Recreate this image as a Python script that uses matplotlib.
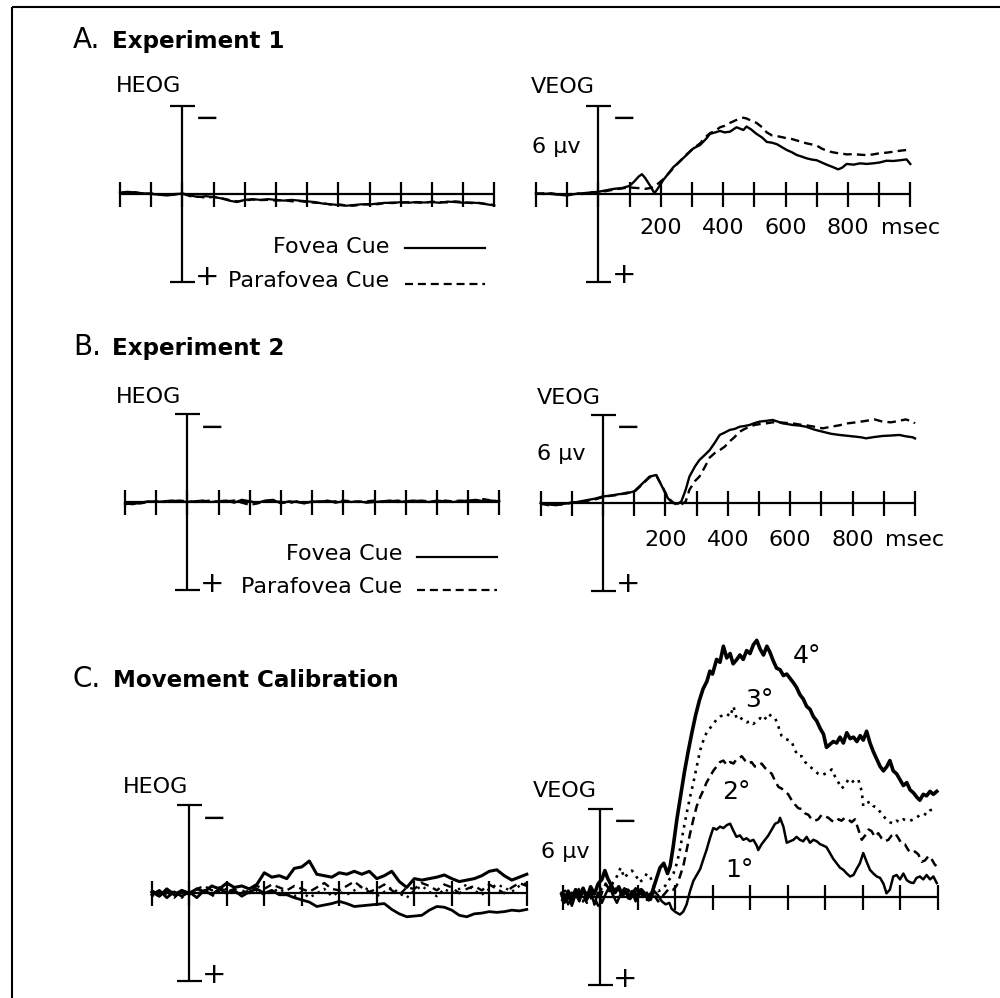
import numpy as np
import matplotlib
matplotlib.use("Agg")
import matplotlib.pyplot as plt
from matplotlib.lines import Line2D

# ---------------- data (values are -µV: negative voltage plotted upward) -------------
ticks_ab = [-200, -100, 0, 100, 200, 300, 400, 500, 600, 700, 800, 900, 1000]
ticks_c = [-100, 0, 100, 200, 300, 400, 500, 600, 700, 800, 900]
tick_labels = {200: "200", 400: "400", 600: "600", 800: "800", 1000: "msec"}
bar_uv = 6

# Experiment 1
t_heog_a = list(range(-200, 1001, 25))
heog_a_fovea = [0.1, 0.15, 0.1, 0.05, 0.0, -0.05, -0.1, -0.05, 0.05, -0.1, -0.2, -0.15, -0.2,
                -0.3, -0.45, -0.55, -0.4, -0.35, -0.4, -0.35, -0.4, -0.45, -0.4, -0.45, -0.5,
                -0.55, -0.65, -0.7, -0.75, -0.8, -0.75, -0.7, -0.72, -0.65, -0.6, -0.62, -0.55,
                -0.6, -0.55, -0.58, -0.55, -0.6, -0.52, -0.55, -0.6, -0.58, -0.62, -0.7, -0.78]
heog_a_parafovea = [0.05, 0.1, 0.12, 0.0, 0.05, -0.02, -0.08, 0.0, 0.02, -0.15, -0.18, -0.25,
                    -0.2, -0.28, -0.4, -0.5, -0.45, -0.38, -0.42, -0.4, -0.45, -0.42, -0.5,
                    -0.48, -0.55, -0.6, -0.62, -0.72, -0.7, -0.78, -0.8, -0.72, -0.68, -0.7,
                    -0.62, -0.58, -0.6, -0.55, -0.58, -0.6, -0.52, -0.55, -0.58, -0.5, -0.55,
                    -0.62, -0.6, -0.68, -0.75]

t_veog_a = [-200, -175, -150, -125, -100, -75, -50, -25, 0, 25, 50, 75, 100, 115, 130, 140, 150,
            165, 180, 190, 208, 225, 240, 260, 283, 304, 326, 345, 358, 375, 390, 405, 422, 443,
            455, 465, 475, 490, 507, 525, 540, 556, 572, 588, 604, 620, 636, 652, 668, 684, 700,
            716, 732, 750, 769, 782, 796, 818, 839, 860, 881, 902, 924, 945, 967, 988, 1000]
veog_a_fovea = [0.05, 0.0, 0.05, -0.05, -0.1, 0.0, 0.05, 0.1, 0.15, 0.25, 0.35, 0.4, 0.55, 0.85,
                1.2, 1.35, 1.1, 0.6, 0.05, 0.35, 0.95, 1.4, 1.82, 2.2, 2.66, 3.1, 3.34, 3.75,
                4.1, 4.2, 4.3, 4.2, 4.25, 4.55, 4.45, 4.36, 4.6, 4.4, 4.1, 3.85, 3.55, 3.5, 3.4,
                3.2, 3.0, 2.85, 2.66, 2.55, 2.43, 2.35, 2.3, 2.15, 2.0, 1.85, 1.68, 1.8, 2.05,
                2.0, 2.09, 2.05, 2.09, 2.15, 2.27, 2.25, 2.3, 2.36, 2.05]
veog_a_parafovea = [0.0, 0.05, 0.0, -0.05, -0.05, 0.05, 0.0, 0.1, 0.12, 0.2, 0.3, 0.38, 0.45,
                    0.42, 0.4, 0.38, 0.35, 0.4, 0.5, 0.68, 1.0, 1.4, 1.75, 2.2, 2.7, 3.1, 3.45,
                    3.9, 4.15, 4.3, 4.55, 4.65, 4.85, 5.05, 5.15, 5.2, 5.15, 5.0, 4.85, 4.55,
                    4.2, 4.0, 3.95, 3.88, 3.8, 3.75, 3.65, 3.55, 3.45, 3.38, 3.3, 3.1, 2.95,
                    2.85, 2.78, 2.75, 2.7, 2.72, 2.68, 2.65, 2.7, 2.78, 2.82, 2.88, 2.95, 3.0, 3.1]

# Experiment 2
t_heog_b = list(range(-200, 1001, 25))
heog_b_fovea = [-0.1, -0.15, -0.05, 0.05, 0.0, 0.05, 0.1, 0.05, 0.0, 0.05, 0.1, 0.0, 0.05, 0.1,
                -0.05, 0.15, 0.05, -0.05, 0.1, 0.15, -0.1, 0.05, 0.0, -0.1, 0.05, 0.0, 0.1,
                -0.05, 0.05, 0.0, 0.05, -0.05, 0.0, 0.05, 0.1, 0.0, 0.05, 0.1, 0.05, 0.0, 0.1,
                0.05, 0.0, 0.05, 0.1, 0.15, 0.05, 0.1, 0.05]
heog_b_parafovea = [-0.15, -0.1, -0.1, 0.0, 0.05, 0.0, 0.05, 0.1, 0.05, 0.0, 0.05, 0.1, 0.0,
                    0.05, 0.1, -0.05, -0.2, -0.1, 0.05, 0.1, 0.0, -0.1, 0.05, -0.05, 0.0, 0.05,
                    0.0, 0.05, 0.1, 0.05, 0.0, 0.05, 0.1, 0.0, 0.05, 0.1, 0.0, 0.05, 0.1, 0.05,
                    0.0, 0.1, 0.05, 0.1, 0.05, 0.1, 0.2, 0.1, 0.05]

t_veog_b = [-200, -175, -150, -125, -100, -75, -50, -25, 0, 25, 50, 75, 100, 125, 149, 171, 192,
            208, 224, 240, 251, 265, 277, 295, 309, 325, 342, 358, 374, 390, 406, 422, 438, 454,
            470, 486, 502, 523, 544, 560, 576, 592, 608, 630, 651, 678, 704, 731, 758, 784, 811,
            827, 843, 870, 896, 923, 950, 970, 993, 1000]
veog_b_fovea = [0.0, -0.1, -0.15, -0.05, 0.0, 0.1, 0.2, 0.3, 0.45, 0.5, 0.6, 0.65, 0.8, 1.3,
                1.8, 1.91, 1.0, 0.32, 0.0, -0.05, 0.1, 0.9, 1.8, 2.5, 2.93, 3.25, 3.61, 4.1,
                4.64, 4.8, 4.98, 5.05, 5.2, 5.25, 5.32, 5.45, 5.55, 5.6, 5.66, 5.55, 5.43, 5.38,
                5.32, 5.28, 5.2, 5.0, 4.86, 4.72, 4.64, 4.58, 4.52, 4.48, 4.41, 4.5, 4.57, 4.6,
                4.64, 4.55, 4.48, 4.4]
veog_b_parafovea = [-0.05, -0.15, -0.1, -0.1, 0.05, 0.05, 0.15, 0.25, 0.4, 0.5, 0.55, 0.7, 0.75,
                    1.25, 1.75, 1.85, 1.05, 0.35, 0.05, -0.15, -0.1, 0.1, 0.9, 1.5, 1.8, 2.4,
                    3.1, 3.4, 3.6, 3.84, 4.2, 4.5, 4.86, 5.05, 5.2, 5.32, 5.38, 5.43, 5.5, 5.5,
                    5.48, 5.45, 5.43, 5.35, 5.3, 5.2, 5.09, 5.2, 5.3, 5.43, 5.5, 5.55, 5.6, 5.7,
                    5.55, 5.5, 5.6, 5.7, 5.55, 5.43]

# Movement calibration
t_heog_c = list(range(-100, 901, 20))
heog_c_4deg = [0.1, -0.2, 0.3, -0.1, 0.2, 0.0, 0.3, 0.1, 0.5, 0.3, 0.7, 0.4, 0.5, 0.3, 0.6, 1.4,
               1.1, 1.2, 1.0, 1.7, 1.8, 2.2, 1.3, 1.2, 1.1, 1.4, 1.3, 1.5, 1.3, 1.5, 1.0, 1.2,
               1.5, 0.8, 0.4, 1.0, 0.9, 1.0, 1.1, 1.25, 1.0, 0.8, 0.9, 1.0, 1.2, 1.5, 1.6, 1.2,
               0.9, 1.1, 1.3]
heog_c_1deg = [-0.1, 0.2, -0.3, 0.1, -0.2, 0.1, -0.3, 0.2, -0.1, 0.3, 0.0, 0.2, -0.2, 0.1, 0.3,
               0.0, 0.2, -0.1, -0.1, -0.3, -0.45, -0.6, -0.9, -0.8, -0.7, -0.55, -0.7, -0.9,
               -0.85, -0.8, -0.75, -0.7, -1.1, -1.4, -1.6, -1.55, -1.5, -1.15, -0.9, -0.95,
               -1.15, -1.5, -1.6, -1.4, -1.35, -1.25, -1.3, -1.25, -1.15, -1.2, -1.1]
heog_c_2deg = [0.2, -0.1, 0.1, -0.3, 0.2, -0.1, 0.3, 0.5, 0.2, 0.4, 0.1, 0.3, 0.0, 0.2, 0.5, 0.3,
               0.6, 0.4, 0.2, 0.5, 0.3, 0.1, 0.4, 0.7, 0.3, 0.2, 0.5, 0.8, 0.4, 0.1, 0.3, 0.6,
               0.2, -0.1, 0.4, 0.3, 0.7, 0.5, 0.2, 0.6, 0.4, 0.0, 0.3, 0.5, 0.2, 0.6, 0.3, 0.0,
               0.4, 0.7, 0.5]
heog_c_3deg = [-0.2, 0.1, -0.1, 0.2, -0.3, 0.1, 0.0, 0.2, -0.2, 0.1, 0.3, -0.1, 0.2, 0.0, 0.2,
               -0.1, 0.1, 0.3, 0.0, -0.2, 0.1, -0.3, 0.0, 0.3, -0.2, 0.1, -0.1, 0.2, 0.5, 0.2,
               -0.2, 0.1, 0.4, 0.0, -0.3, 0.2, 0.5, 0.1, -0.2, 0.3, 0.0, 0.3, 0.6, 0.2, -0.1,
               0.3, 0.6, 0.4, 0.1, 0.5, 0.7]

veog_c_4deg = [(-102, 0.2), (-95, -0.3), (-85, 0.4), (-75, -0.2), (-65, 0.5), (-55, 0.0),
               (-45, 0.6), (-35, -0.1), (-25, 0.7), (-15, 0.2), (-5, 0.9), (5, 1.2), (13, 1.8),
               (20, 1.3), (30, 0.8), (40, 0.3), (50, 0.7), (60, 0.1), (70, 0.5), (80, -0.1),
               (90, 0.4), (100, 0.0), (110, 0.5), (120, 0.2), (130, -0.2), (140, 0.4),
               (150, 1.2), (160, 2.0), (170, 2.3), (180, 1.6), (187, 2.1), (195, 3.4),
               (205, 5.3), (215, 6.9), (225, 8.5), (235, 9.9), (245, 11.2), (255, 12.4),
               (265, 13.4), (275, 14.2), (285, 14.7), (293, 15.4), (300, 15.2), (311, 16.2),
               (320, 16.0), (329, 17.1), (338, 16.3), (347, 16.6), (355, 15.9), (365, 16.2),
               (373, 16.5), (382, 16.2), (391, 16.8), (400, 16.6), (409, 17.2), (418, 17.5),
               (427, 16.9), (436, 16.5), (445, 17.1), (453, 16.7), (462, 16.1), (471, 15.6),
               (480, 15.5), (489, 15.1), (498, 15.2), (507, 14.9), (516, 14.6), (524, 14.3),
               (533, 13.8), (542, 13.5), (551, 13.0), (560, 12.8), (569, 12.3), (578, 12.0),
               (587, 11.5), (596, 11.1), (604, 10.2), (613, 10.4), (622, 10.6), (631, 10.5),
               (640, 10.9), (649, 10.5), (658, 11.2), (667, 10.8), (676, 10.9), (685, 10.6),
               (694, 11.0), (702, 10.7), (711, 11.3), (720, 10.5), (729, 9.9), (738, 9.4),
               (747, 8.9), (756, 8.6), (765, 8.9), (773, 9.3), (782, 8.6), (791, 8.4),
               (800, 8.0), (809, 7.6), (818, 7.8), (827, 7.3), (836, 7.1), (845, 6.8),
               (853, 6.6), (862, 7.0), (871, 6.9), (880, 7.2), (889, 7.0), (898, 7.2)]
veog_c_3deg = [(-102, 0.0), (-95, 0.5), (-85, -0.2), (-75, 0.4), (-65, 0.1), (-55, 0.6),
               (-45, -0.3), (-35, 0.3), (-25, 0.0), (-15, -0.5), (-5, 0.2), (5, 0.6), (15, 0.9),
               (25, 0.4), (35, 1.0), (45, 1.4), (55, 2.0), (65, 1.3), (75, 1.6), (85, 1.8),
               (95, 1.5), (105, 1.0), (115, 1.2), (125, 1.6), (135, 1.3), (145, 0.7),
               (155, 0.4), (165, 0.5), (175, 0.8), (185, 1.2), (196, 1.6), (205, 2.3),
               (213, 3.2), (222, 4.5), (231, 5.7), (240, 6.8), (249, 7.8), (258, 8.9),
               (267, 10.0), (276, 10.7), (284, 11.2), (293, 11.5), (302, 11.8), (311, 12.1),
               (320, 12.3), (329, 12.4), (338, 12.5), (347, 12.3), (356, 13.0), (364, 12.2),
               (373, 12.3), (382, 12.0), (391, 11.9), (400, 12.0), (409, 11.8), (418, 12.0),
               (427, 12.2), (436, 12.0), (444, 12.3), (449, 12.5), (458, 12.3), (467, 12.2),
               (476, 11.6), (484, 11.0), (493, 10.8), (502, 10.7), (511, 10.6), (520, 10.0),
               (529, 9.6), (538, 9.6), (547, 9.2), (556, 9.0), (564, 8.8), (573, 8.6),
               (582, 8.4), (591, 8.3), (600, 8.4), (609, 8.5), (618, 8.7), (627, 8.2),
               (636, 7.8), (644, 7.4), (653, 7.6), (662, 8.0), (671, 7.8), (680, 8.0),
               (689, 8.0), (698, 7.2), (702, 6.2), (711, 6.4), (720, 6.5), (729, 6.2),
               (738, 6.1), (747, 5.8), (756, 5.5), (764, 5.3), (773, 5.1), (782, 5.0),
               (791, 5.2), (800, 5.1), (809, 5.3), (818, 5.2), (827, 5.2), (836, 5.3),
               (844, 5.4), (853, 5.6), (862, 5.7), (871, 5.6), (880, 5.9), (889, 6.0),
               (898, 5.9)]
veog_c_2deg = [(-102, -0.3), (-95, 0.2), (-85, -0.5), (-75, 0.3), (-65, -0.2), (-55, 0.4),
               (-45, 0.1), (-35, -0.4), (-25, 0.3), (-15, 0.0), (-5, -0.6), (5, 0.3), (15, 0.9),
               (25, 0.5), (35, 0.2), (45, 0.7), (55, 0.3), (65, -0.1), (75, 0.5), (85, 0.2),
               (95, 0.6), (105, 0.1), (115, 0.4), (125, -0.2), (135, 0.3), (145, 0.1),
               (155, -0.3), (165, 0.0), (175, 0.3), (185, 0.6), (196, 0.5), (205, 0.8),
               (213, 1.4), (222, 2.1), (231, 3.2), (240, 4.3), (249, 5.3), (258, 6.2),
               (267, 6.8), (276, 7.3), (284, 7.8), (293, 8.2), (302, 8.6), (311, 8.9),
               (320, 9.2), (329, 9.3), (338, 9.0), (347, 9.2), (356, 9.1), (364, 9.4),
               (373, 9.5), (378, 9.6), (387, 9.3), (396, 9.1), (404, 9.2), (413, 8.9),
               (422, 8.9), (431, 9.1), (440, 8.8), (449, 8.6), (458, 8.4), (467, 7.9),
               (476, 7.5), (484, 7.4), (493, 7.2), (502, 7.0), (511, 6.6), (520, 6.3),
               (529, 6.05), (538, 6.0), (547, 5.7), (556, 5.6), (564, 5.3), (573, 5.2),
               (582, 5.3), (591, 5.6), (600, 5.5), (609, 5.4), (618, 5.2), (627, 5.1),
               (636, 5.3), (644, 5.2), (653, 5.4), (662, 5.3), (671, 5.1), (680, 5.3),
               (689, 4.6), (698, 3.9), (707, 4.2), (716, 4.6), (724, 4.5), (733, 4.1),
               (742, 4.35), (751, 4.0), (760, 3.8), (769, 3.9), (778, 4.2), (787, 4.35),
               (796, 4.0), (804, 3.65), (813, 3.6), (822, 3.2), (831, 3.0), (840, 3.1),
               (849, 2.9), (858, 2.4), (867, 2.5), (876, 2.8), (884, 2.6), (893, 2.2),
               (898, 2.1)]
veog_c_1deg = [(-102, 0.3), (-95, -0.4), (-85, 0.1), (-75, -0.6), (-65, 0.2), (-55, -0.3),
               (-45, 0.5), (-35, -0.2), (-25, 0.4), (-15, -0.5), (-5, 0.3), (5, -0.4), (15, 0.2),
               (25, 0.7), (35, 0.1), (45, -0.4), (55, 0.2), (65, 0.6), (75, -0.1), (85, 0.4),
               (95, -0.3), (105, 0.5), (115, 0.0), (125, 0.3), (135, -0.2), (145, 0.4),
               (155, 0.1), (165, -0.3), (175, -0.5), (185, -0.4), (191, -0.8), (200, -1.0),
               (213, -1.2), (222, -1.0), (231, -0.5), (240, 0.4), (249, 1.1), (258, 1.5),
               (267, 1.9), (276, 2.6), (284, 3.2), (293, 4.0), (302, 4.7), (311, 4.6),
               (320, 4.8), (329, 4.7), (338, 4.9), (347, 5.0), (356, 4.5), (364, 4.1),
               (373, 4.2), (382, 3.9), (391, 4.0), (400, 3.8), (409, 3.9), (418, 3.5),
               (422, 3.2), (431, 3.6), (440, 3.9), (449, 4.2), (458, 4.6), (467, 5.0),
               (476, 5.1), (480, 5.4), (489, 4.8), (498, 3.7), (507, 3.8), (516, 3.9),
               (524, 4.1), (533, 3.9), (542, 3.8), (551, 4.1), (560, 3.7), (569, 3.9),
               (578, 3.8), (587, 3.6), (596, 3.5), (604, 3.4), (613, 3.0), (622, 2.6),
               (631, 2.3), (640, 2.0), (649, 1.85), (658, 1.6), (667, 1.4), (676, 1.5),
               (684, 1.9), (693, 2.3), (702, 3.0), (711, 2.4), (720, 1.85), (729, 1.6),
               (738, 1.4), (747, 1.3), (756, 0.9), (764, 0.25), (773, 0.5), (782, 1.4),
               (791, 1.5), (800, 1.2), (809, 1.6), (818, 1.15), (827, 1.0), (836, 0.95),
               (844, 1.3), (853, 1.4), (862, 1.2), (871, 1.5), (880, 1.2), (889, 1.4),
               (898, 0.95)]

# ---------------- figure & helpers ----------------
W, H = 1000, 998
SY = 88.0 / bar_uv          # px per µV
LW_AX = 1.6
TICK_HALF_PX = 12.5
CAP_HALF_PX = 12.5
FS = 16
TITLE_FS = 16.6

fig = plt.figure(figsize=(W / 100, H / 100), dpi=100)
fig.patch.set_facecolor("white")


def ftext(x, y, s, **kw):
    kw.setdefault("va", "baseline")
    kw.setdefault("fontsize", FS)
    fig.text(x / W, 1 - y / H, s, color="black", **kw)


def fline(xs, ys, **kw):
    fig.add_artist(Line2D([x / W for x in xs], [1 - y / H for y in ys],
                          transform=fig.transFigure, color="black", **kw))


def make_ax(zero_x, zero_y, sx, xlim, ylim):
    left = zero_x + xlim[0] * sx
    right = zero_x + xlim[1] * sx
    top = zero_y - ylim[1] * SY
    bottom = zero_y - ylim[0] * SY
    ax = fig.add_axes([left / W, 1 - bottom / H, (right - left) / W, (bottom - top) / H])
    ax.set_xlim(*xlim)
    ax.set_ylim(*ylim)
    ax.axis("off")
    return ax


def scaffold(ax, ticks, sx):
    k = dict(color="black", lw=LW_AX, solid_capstyle="butt", clip_on=False)
    ax.plot([ticks[0], ticks[-1]], [0, 0], **k)
    th = TICK_HALF_PX / SY
    for t in ticks:
        ax.plot([t, t], [-th, th], **k)
    ax.plot([0, 0], [-bar_uv, bar_uv], **k)
    ch = CAP_HALF_PX / sx
    ax.plot([-ch, ch], [bar_uv, bar_uv], **k)
    ax.plot([-ch, ch], [-bar_uv, -bar_uv], **k)


def tick_text(ax, zero_y, base_px):
    yv = (zero_y - base_px) / SY
    for t, s in tick_labels.items():
        ax.text(t, yv, s, ha="center", va="baseline", fontsize=FS)


def pm(x, y_minus, y_plus):
    off = 10
    ftext(x, y_minus + off, "\u2212", ha="center", fontsize=21)
    ftext(x, y_plus + off, "+", ha="center", fontsize=21)


DASH_AB = (0, (3.6, 2.2))
SX_AB = 0.312
SX_C = 0.375

# frame
fline([12, 1000], [7, 7], lw=1.5, solid_capstyle="butt")
fline([12, 12], [7, 998], lw=1.5, solid_capstyle="butt")

# ---------------- Panel A ----------------
ftext(73, 48, "A.", fontsize=20)
ftext(112, 48, "Experiment 1", fontsize=TITLE_FS, fontweight="bold")

ax = make_ax(182.3, 194, SX_AB, (-260, 1060), (-8, 8))
scaffold(ax, ticks_ab, SX_AB)
ax.plot(t_heog_a, heog_a_parafovea, color="black", lw=1.6, ls=DASH_AB, clip_on=False)
ax.plot(t_heog_a, heog_a_fovea, color="black", lw=1.6, clip_on=False)
ftext(116, 92, "HEOG")
pm(207.5, 117.3, 274.7)
ftext(389, 253, "Fovea Cue", ha="right")
ftext(389, 287, "Parafovea Cue", ha="right")
fline([405, 485], [247.7, 247.7], lw=1.6)
fline([405, 485], [284, 284], lw=1.6, ls=DASH_AB)

ax = make_ax(598.3, 194, SX_AB, (-260, 1060), (-8, 8))
scaffold(ax, ticks_ab, SX_AB)
ax.plot(t_veog_a, veog_a_parafovea, color="black", lw=1.7, ls=DASH_AB, clip_on=False)
ax.plot(t_veog_a, veog_a_fovea, color="black", lw=1.7, clip_on=False)
tick_text(ax, 194, 234)
ftext(531, 93, "VEOG")
ftext(532, 152.7, "6 \u00b5v")
pm(624, 117.3, 273.3)

# ---------------- Panel B ----------------
ftext(73, 355, "B.", fontsize=20)
ftext(112, 355, "Experiment 2", fontsize=TITLE_FS, fontweight="bold")

ax = make_ax(187.3, 502, SX_AB, (-260, 1060), (-8, 8))
scaffold(ax, ticks_ab, SX_AB)
ax.plot(t_heog_b, heog_b_parafovea, color="black", lw=1.6, ls=DASH_AB, clip_on=False)
ax.plot(t_heog_b, heog_b_fovea, color="black", lw=1.6, clip_on=False)
ftext(116, 402.7, "HEOG")
pm(212, 426, 581.7)
ftext(402, 560, "Fovea Cue", ha="right")
ftext(402, 593.3, "Parafovea Cue", ha="right")
fline([417, 497], [556.7, 556.7], lw=1.6)
fline([417, 497], [590, 590], lw=1.6, ls=DASH_AB)

ax = make_ax(603, 503, SX_AB, (-260, 1060), (-8, 8))
scaffold(ax, ticks_ab, SX_AB)
ax.plot(t_veog_b, veog_b_parafovea, color="black", lw=1.7, ls=DASH_AB, clip_on=False)
ax.plot(t_veog_b, veog_b_fovea, color="black", lw=1.7, clip_on=False)
tick_text(ax, 503, 546)
ftext(537, 404, "VEOG")
ftext(537, 460, "6 \u00b5v")
pm(628, 426, 582)

# ---------------- Panel C ----------------
ftext(73, 686.7, "C.", fontsize=20)
ftext(113, 686.7, "Movement Calibration", fontsize=TITLE_FS, fontweight="bold")

ax = make_ax(189.3, 893.3, SX_C, (-130, 930), (-8, 8))
scaffold(ax, ticks_c, SX_C)
ax.plot(t_heog_c, heog_c_3deg, color="black", lw=1.7, ls=(0, (1, 2)), clip_on=False)
ax.plot(t_heog_c, heog_c_2deg, color="black", lw=1.7, ls=(0, (3.4, 2.1)), clip_on=False)
ax.plot(t_heog_c, heog_c_1deg, color="black", lw=2.0, clip_on=False)
ax.plot(t_heog_c, heog_c_4deg, color="black", lw=2.2, clip_on=False)
ftext(123, 793.3, "HEOG")
pm(214, 817, 973)

ax = make_ax(600, 897, SX_C, (-130, 930), (-8, 20))
scaffold(ax, ticks_c, SX_C)
styles = [(veog_c_1deg, dict(lw=1.8, ls="-")),
          (veog_c_2deg, dict(lw=1.8, ls=(0, (3.4, 2.1)))),
          (veog_c_3deg, dict(lw=1.9, ls=(0, (1, 2)))),
          (veog_c_4deg, dict(lw=2.6, ls="-"))]
for series, st in styles:
    tt, vv = zip(*series)
    ax.plot(tt, vv, color="black", clip_on=False, **st)
ftext(533, 797, "VEOG")
ftext(541, 858, "6 \u00b5v")
pm(625, 820, 977)
ftext(793, 663, "4\u00b0", fontsize=18)
ftext(745, 707, "3\u00b0", fontsize=18)
ftext(722, 799, "2\u00b0", fontsize=18)
ftext(725, 877, "1\u00b0", fontsize=18)

fig.savefig("out.png", dpi=100, facecolor="white")
